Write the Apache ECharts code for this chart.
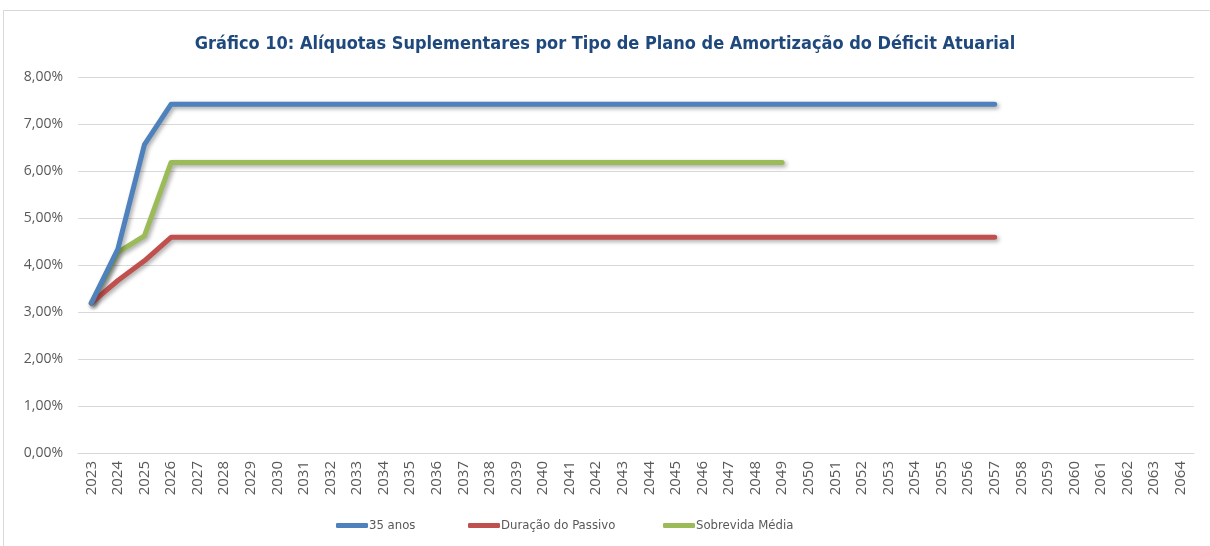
<!DOCTYPE html>
<html>
<head>
<meta charset="utf-8">
<script src="https://cdn.jsdelivr.net/npm/echarts@6/dist/echarts.min.js"></script>
<style>
  html, body { margin: 0; padding: 0; background: #fff; }
  #frame { position: absolute; left: 3px; top: 10px; width: 1210px; height: 540px; border: 1px solid #d9d9d9; box-sizing: border-box; }
  #chart { position: absolute; left: 0; top: 0; width: 1210px; height: 546px; }
</style>
</head>
<body>
<div id="frame"></div>
<div id="chart"></div>
<script>
// anos do eixo X
const years = [];
for (let y = 2023; y <= 2064; y++) years.push(String(y));

// aliquotas (%)
const anos35 = [3.19, 4.34, 6.56, 7.42, 7.42, 7.42, 7.42, 7.42, 7.42, 7.42, 7.42, 7.42, 7.42, 7.42, 7.42, 7.42, 7.42, 7.42, 7.42, 7.42, 7.42, 7.42, 7.42, 7.42, 7.42, 7.42, 7.42, 7.42, 7.42, 7.42, 7.42, 7.42, 7.42, 7.42, 7.42];
const duracaoPassivo = [3.19, 3.67, 4.09, 4.59, 4.59, 4.59, 4.59, 4.59, 4.59, 4.59, 4.59, 4.59, 4.59, 4.59, 4.59, 4.59, 4.59, 4.59, 4.59, 4.59, 4.59, 4.59, 4.59, 4.59, 4.59, 4.59, 4.59, 4.59, 4.59, 4.59, 4.59, 4.59, 4.59, 4.59, 4.59];
const sobrevidaMedia = [3.19, 4.27, 4.62, 6.18, 6.18, 6.18, 6.18, 6.18, 6.18, 6.18, 6.18, 6.18, 6.18, 6.18, 6.18, 6.18, 6.18, 6.18, 6.18, 6.18, 6.18, 6.18, 6.18, 6.18, 6.18, 6.18, 6.18];

const names = ['35 anos', 'Duração do Passivo', 'Sobrevida Média'];
const colors = ['#4F81BD', '#C0504D', '#9BBB59'];
const seriesData = [anos35, duracaoPassivo, sobrevidaMedia];
const legendLeft = [336, 468, 663];

const cond = '"DejaVu Sans Condensed", sans-serif';
const open = '"Open Sans", sans-serif';

const chart = echarts.init(document.getElementById('chart'));
chart.setOption({
    animation: false,
    color: colors,
    title: {
        text: 'Gráfico 10: Alíquotas Suplementares por Tipo de Plano de Amortização do Déficit Atuarial',
        left: 'center',
        top: 30,
        textStyle: { color: '#1F497D', fontSize: 18, fontWeight: 'bold', fontFamily: cond }
    },
    legend: names.map((n, i) => ({
        data: [n],
        left: legendLeft[i],
        top: 519,
        padding: 0,
        itemWidth: 32,
        itemHeight: 5,
        icon: 'roundRect',
        textStyle: { color: '#595959', fontSize: 13, fontFamily: cond, padding: [0, 0, 0, -4] }
    })),
    grid: { left: 78, right: 16, top: 77, bottom: 93, containLabel: false },
    xAxis: {
        type: 'category',
        data: years,
        boundaryGap: true,
        axisLine: { lineStyle: { color: '#d9d9d9' } },
        axisTick: { show: false },
        axisLabel: { rotate: 90, interval: 0, color: '#595959', fontSize: 15, fontFamily: open, margin: 8 }
    },
    yAxis: {
        type: 'value',
        min: 0,
        max: 8,
        interval: 1,
        axisLine: { show: false },
        axisTick: { show: false },
        splitLine: { lineStyle: { color: '#d9d9d9' } },
        axisLabel: {
            color: '#595959', fontSize: 14, fontFamily: open, margin: 15,
            formatter: v => v.toFixed(2).replace('.', ',') + '%'
        }
    },
    series: names.map((n, i) => ({
        type: 'line',
        name: n,
        data: seriesData[i],
        symbol: 'none',
        lineStyle: {
            width: 5, color: colors[i], cap: 'round', join: 'round',
            shadowColor: 'rgba(0,0,0,0.35)', shadowBlur: 4, shadowOffsetX: 2, shadowOffsetY: 2
        },
        z: 3 - i
    }))
});
</script>
</body>
</html>
